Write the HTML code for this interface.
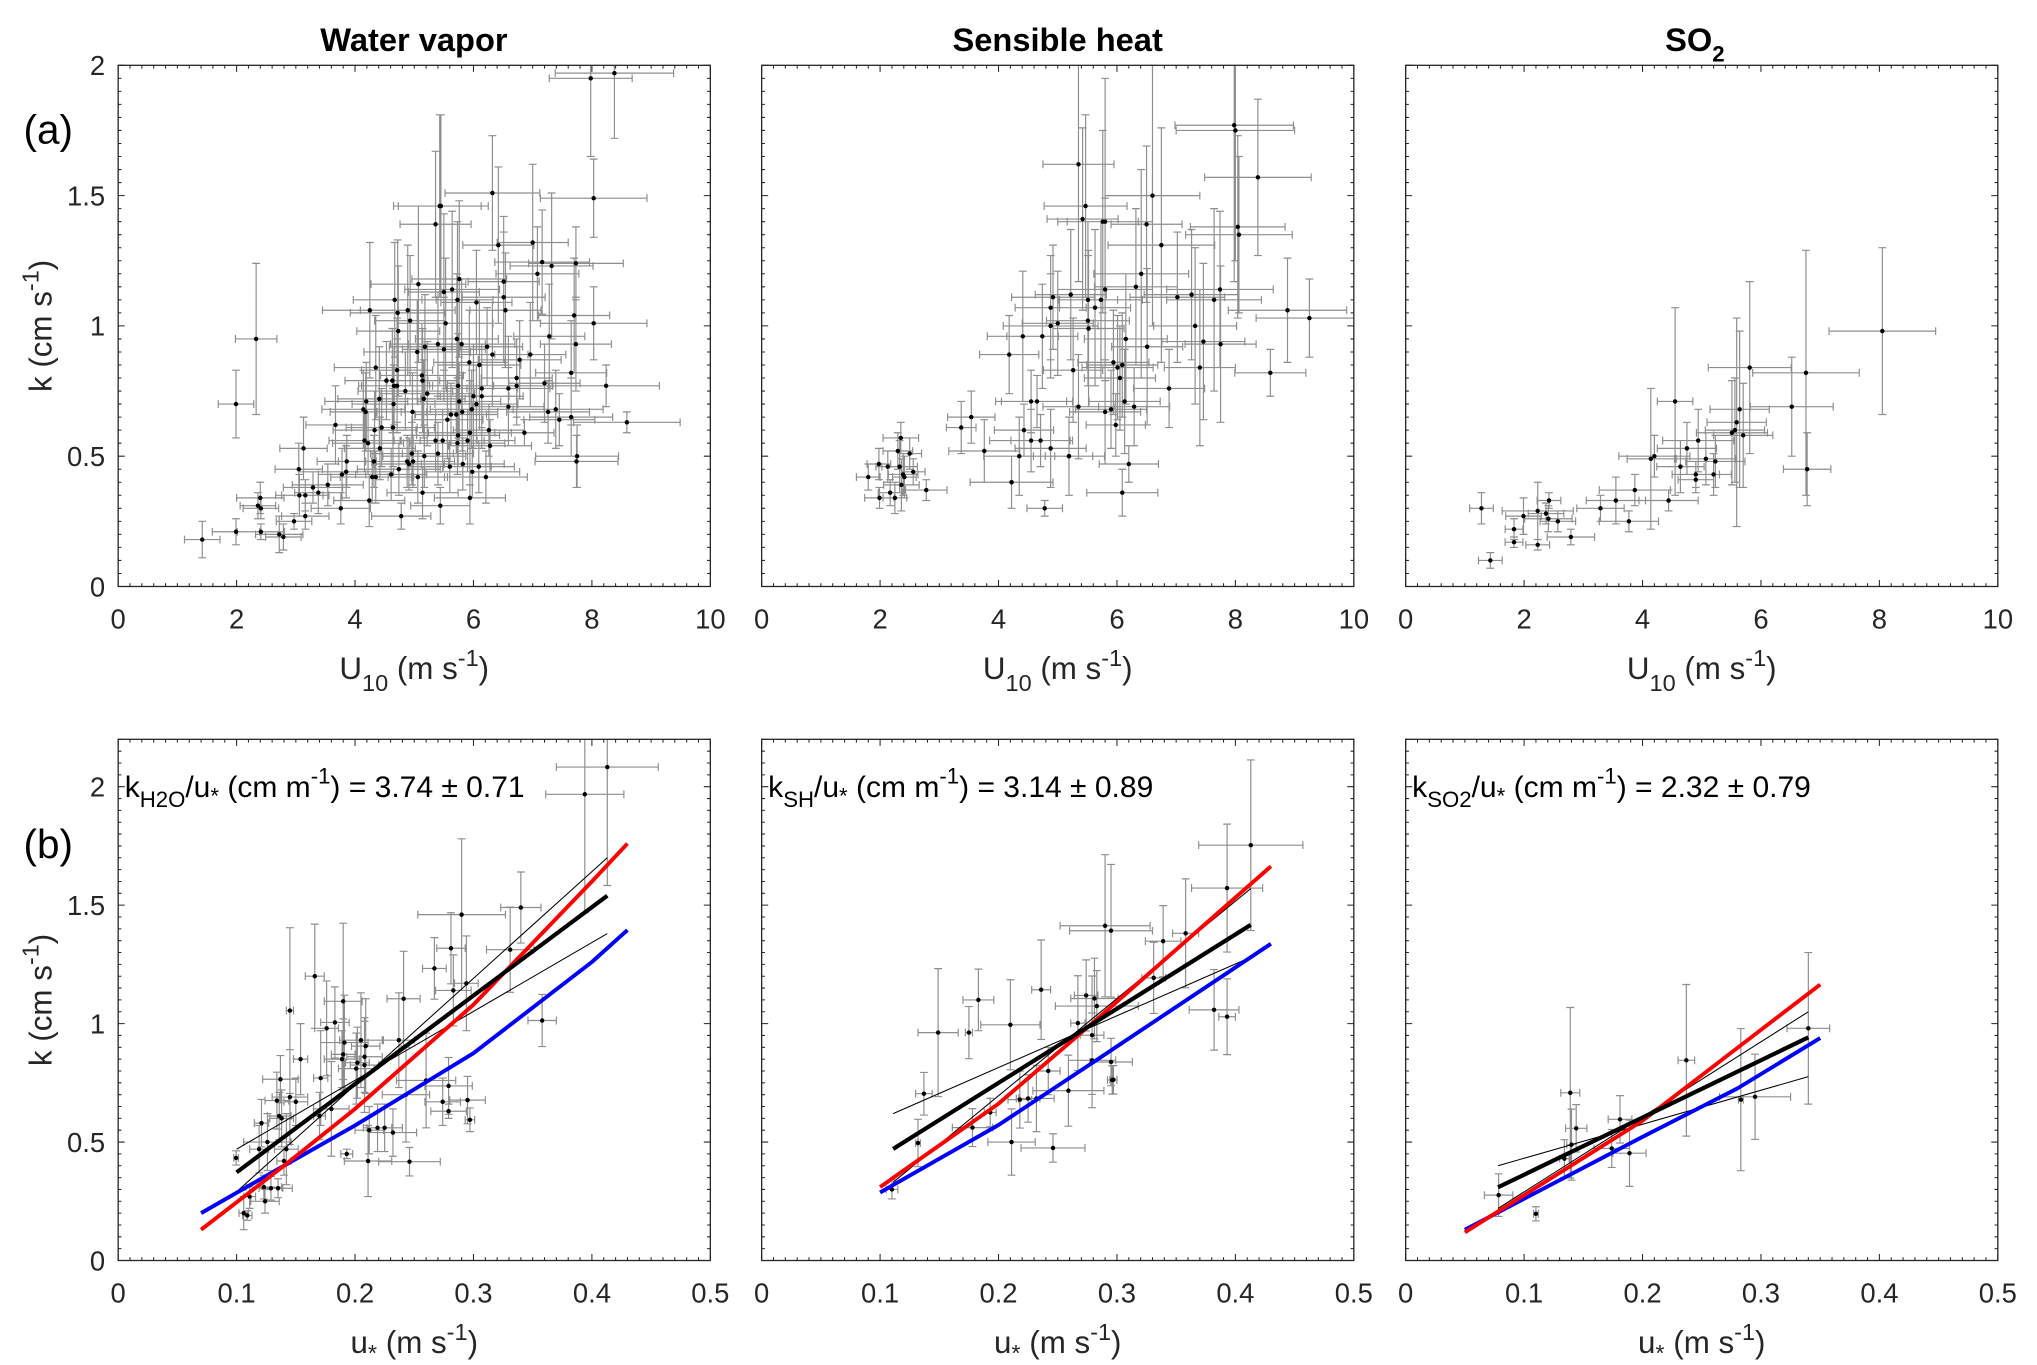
<!DOCTYPE html>
<html><head><meta charset="utf-8"><style>
html,body{margin:0;padding:0;background:#fff;}
svg{display:block;font-family:"Liberation Sans",Arial,sans-serif;}
</style></head><body>
<svg id="fig" width="2037" height="1365" viewBox="0 0 1560 1045" preserveAspectRatio="none" xmlns="http://www.w3.org/2000/svg">
<rect width="1560" height="1045" fill="#fff"/>
<text x="317" y="39" font-size="25" font-weight="bold" text-anchor="middle">Water vapor</text>
<text x="810" y="39" font-size="25" font-weight="bold" text-anchor="middle">Sensible heat</text>
<text x="1298" y="39" font-size="25" font-weight="bold" text-anchor="middle">SO<tspan font-size="17" dy="8">2</tspan></text>
<text x="18" y="110" font-size="31">(a)</text>
<text x="18" y="657" font-size="31">(b)</text>
<g id="plots"></g>
</svg>
<script>
// ---------- Data: top row (U10 vs k) ----------
const wvX=[8.24,8.59,7.75,7.70,7.73,7.73,7.32,7.16,7.08,7.0,7.28,7.2,7.26,7.39,7.65,7.65,7.45,7.74,6.96,6.86,6.78,6.73,6.73,6.59,6.59,6.54,6.51,6.51,6.42,6.32,6.32,6.28,6.26,6.23,6.21,6.14,6.14,6.1,6.09,6.05,6.05,6.0,5.98,5.97,5.94,5.94,5.93,5.9,5.82,5.8,5.81,5.76,5.76,5.74,5.74,5.73,5.72,5.73,5.71,5.64,5.62,5.6,5.56,5.53,5.5,5.5,5.48,5.45,5.44,5.43,5.4,5.4,5.36,5.36,5.22,5.18,5.17,5.16,5.14,5.14,5.13,5.07,5.06,5.05,4.98,4.97,4.96,4.93,4.91,4.88,4.85,4.89,4.78,4.74,4.73,4.71,4.71,4.72,4.67,4.66,4.65,4.64,4.63,4.61,4.53,4.45,4.42,4.41,4.35,4.35,4.33,4.32,4.29,4.25,4.24,4.22,4.19,4.18,4.16,4.14,3.86,3.85,3.78,3.76,3.67,3.54,3.38,3.29,3.16,3.16,3.13,3.06,3.05,2.97,2.79,2.72,2.41,2.41,2.4,2.36,2.33,1.99,1.99,1.42,8.03,8.03,7.98,8.38];
const wvY=[0.77,0.63,0.50,1.04,0.93,1.24,1.23,1.245,1.20,1.32,0.96,0.78,0.67,0.68,0.82,0.65,0.64,0.48,0.89,0.59,0.87,0.80,0.77,0.69,0.76,1.06,1.11,1.17,1.31,1.51,0.89,0.54,0.60,0.92,0.42,0.73,0.76,0.85,0.46,1.09,0.70,0.73,0.44,0.68,0.34,0.59,0.86,0.56,0.47,0.93,0.67,0.71,1.18,0.77,0.58,0.55,0.95,1.10,0.66,1.14,0.66,0.46,0.64,1.01,0.91,1.13,0.56,1.46,0.31,1.46,0.93,0.51,1.39,0.56,0.74,0.92,0.50,0.72,0.79,0.36,0.81,1.16,0.42,0.90,0.48,0.67,0.51,1.02,0.47,0.48,0.75,1.06,0.27,0.45,0.98,0.83,0.77,1.05,1.10,0.77,0.70,0.61,0.79,0.43,0.79,0.61,0.53,0.72,0.84,0.42,0.60,0.48,0.42,1.06,0.33,0.55,0.71,0.67,0.56,0.68,0.48,0.44,0.43,0.30,0.62,0.39,0.36,0.38,0.27,0.35,0.53,0.35,0.45,0.25,0.19,0.20,0.21,0.30,0.34,0.31,0.95,0.70,0.21,0.18,1.49,1.01,1.95,1.97];
const wvXe=[0.9,0.9,0.7,0.6,0.6,0.8,0.7,0.8,0.7,0.6,0.6,0.6,0.7,0.8,0.6,0.7,0.6,0.7,0.6,0.5,0.7,0.6,0.6,0.6,0.7,0.6,0.7,0.6,0.6,0.8,0.6,0.7,0.6,0.6,0.7,0.7,0.6,0.7,0.6,0.6,0.7,0.6,0.8,0.7,0.6,0.7,0.6,0.8,0.7,0.9,0.6,0.7,0.8,0.6,0.7,0.8,0.7,0.6,0.7,0.8,0.6,0.7,0.6,0.8,0.7,0.6,0.7,0.8,0.5,0.7,0.8,0.6,0.6,0.7,0.8,0.6,0.7,0.7,0.6,0.6,0.7,0.8,0.5,0.9,0.7,0.6,0.7,0.6,0.6,0.7,0.8,0.8,0.5,0.7,0.7,0.6,0.6,0.8,0.7,0.6,0.7,0.7,0.8,0.6,0.7,0.6,0.6,0.7,0.7,0.6,0.7,0.6,0.7,0.8,0.6,0.6,0.7,0.6,0.6,0.7,0.5,0.8,0.4,0.5,0.5,0.6,0.4,0.5,0.4,0.4,0.4,0.4,0.4,0.3,0.3,0.4,0.4,0.3,0.4,0.3,0.35,0.3,0.4,0.3,0.9,0.9,0.7,1.0];
const wvYe=[0.08,0.04,0.12,0.22,0.18,0.14,0.28,0.2,0.18,0.3,0.2,0.15,0.12,0.15,0.2,0.15,0.1,0.1,0.2,0.05,0.15,0.15,0.15,0.15,0.2,0.22,0.25,0.25,0.3,0.22,0.2,0.1,0.1,0.15,0.1,0.2,0.15,0.25,0.1,0.2,0.15,0.2,0.1,0.15,0.1,0.2,0.2,0.12,0.1,0.25,0.15,0.15,0.3,0.2,0.12,0.12,0.25,0.3,0.15,0.3,0.12,0.1,0.15,0.25,0.2,0.3,0.12,0.35,0.07,0.35,0.2,0.12,0.28,0.12,0.2,0.2,0.12,0.15,0.2,0.1,0.2,0.3,0.1,0.2,0.1,0.15,0.12,0.25,0.1,0.1,0.15,0.25,0.05,0.1,0.25,0.2,0.18,0.28,0.22,0.15,0.15,0.15,0.2,0.1,0.15,0.15,0.12,0.2,0.2,0.1,0.15,0.1,0.1,0.26,0.1,0.12,0.15,0.15,0.12,0.15,0.1,0.1,0.1,0.06,0.15,0.08,0.08,0.06,0.05,0.06,0.12,0.08,0.1,0.03,0.05,0.07,0.03,0.04,0.06,0.05,0.29,0.13,0.05,0.07,0.15,0.14,0.3,0.25];

const shX=[1.80,1.98,1.99,2.13,2.17,2.25,2.30,2.33,2.35,2.36,2.39,2.41,2.5,2.56,2.78,3.37,3.54,3.76,4.18,4.22,4.35,4.41,4.43,4.55,4.55,4.65,4.71,4.74,4.78,4.88,4.88,4.88,4.92,5.0,5.19,5.19,5.22,5.26,5.35,5.35,5.42,5.47,5.51,5.51,5.52,5.63,5.73,5.76,5.8,5.8,5.8,5.9,5.94,5.98,6.01,6.05,6.09,6.09,6.13,6.15,6.2,6.29,6.32,6.41,6.5,6.51,6.6,6.75,6.88,7.02,7.26,7.32,7.4,7.46,7.64,7.74,7.75,7.98,8.0,8.04,8.06,8.38,8.59,8.88,9.25];
const shY=[0.42,0.47,0.34,0.46,0.36,0.34,0.52,0.46,0.57,0.39,0.43,0.42,0.51,0.44,0.37,0.61,0.65,0.52,0.89,0.40,0.50,0.96,0.60,0.71,0.56,0.71,0.56,0.96,0.30,1.07,1.0,0.53,1.11,1.01,0.50,0.50,1.12,0.83,1.62,0.69,1.41,1.46,1.10,1.02,0.99,1.07,1.10,1.40,1.40,1.14,0.67,0.68,0.86,0.62,0.84,0.80,0.85,0.36,0.71,0.95,0.47,0.69,1.15,1.20,1.39,0.92,1.50,1.31,0.76,1.11,1.12,1.0,0.84,0.94,1.10,1.14,0.93,1.77,1.75,1.38,1.35,1.57,0.82,1.06,1.03];
const shXe=[0.2,0.2,0.25,0.2,0.2,0.2,0.25,0.3,0.3,0.3,0.25,0.2,0.2,0.2,0.35,0.25,0.4,0.6,0.5,0.7,0.6,0.6,0.5,0.6,0.7,0.6,0.5,0.6,0.3,0.6,0.8,0.6,0.7,0.6,0.6,0.4,0.6,0.5,0.6,0.6,0.6,0.7,0.5,0.7,0.6,0.6,0.7,0.6,0.8,0.8,0.6,0.6,0.6,0.5,0.6,0.6,0.6,0.6,0.6,0.7,0.5,0.6,0.7,0.8,0.6,0.6,0.8,0.9,0.6,0.8,0.8,0.7,0.6,0.7,0.8,0.9,0.6,1.0,1.0,0.8,0.9,0.9,0.6,1.0,0.9];
const shYe=[0.05,0.06,0.04,0.06,0.05,0.06,0.07,0.1,0.06,0.1,0.08,0.08,0.06,0.05,0.04,0.1,0.1,0.12,0.15,0.1,0.15,0.25,0.1,0.12,0.12,0.1,0.1,0.2,0.03,0.2,0.2,0.15,0.2,0.2,0.15,0.15,0.25,0.2,0.45,0.2,0.35,0.35,0.3,0.25,0.3,0.3,0.3,0.35,0.55,0.35,0.2,0.15,0.2,0.12,0.2,0.2,0.2,0.09,0.2,0.25,0.07,0.15,0.3,0.4,0.3,0.3,0.5,0.45,0.15,0.25,0.25,0.3,0.3,0.3,0.35,0.3,0.3,0.6,0.5,0.35,0.3,0.3,0.09,0.2,0.15];

const soX=[1.28,1.43,1.83,1.83,1.99,2.23,2.23,2.37,2.41,2.42,2.57,2.79,3.29,3.55,3.77,3.87,4.14,4.2,4.44,4.55,4.64,4.75,4.9,4.9,4.94,5.07,5.2,5.23,5.51,5.56,5.59,5.64,5.7,5.81,6.52,6.76,6.78,8.05];
const soY=[0.30,0.10,0.22,0.17,0.27,0.29,0.16,0.28,0.26,0.33,0.25,0.19,0.30,0.33,0.25,0.37,0.49,0.50,0.33,0.71,0.46,0.53,0.43,0.41,0.56,0.49,0.43,0.48,0.59,0.60,0.63,0.68,0.58,0.84,0.69,0.82,0.45,0.98];
const soXe=[0.2,0.2,0.15,0.15,0.3,0.6,0.2,0.3,0.4,0.2,0.3,0.4,0.4,0.5,0.5,0.6,0.4,0.6,0.5,0.3,0.4,0.5,0.4,0.3,0.6,0.5,0.3,0.5,0.6,0.5,0.5,0.5,0.5,0.7,0.7,0.9,0.4,0.9];
const soYe=[0.06,0.03,0.04,0.02,0.07,0.11,0.02,0.04,0.05,0.03,0.04,0.03,0.05,0.09,0.04,0.06,0.27,0.08,0.04,0.36,0.1,0.1,0.05,0.05,0.12,0.1,0.08,0.1,0.2,0.2,0.4,0.3,0.2,0.33,0.19,0.47,0.14,0.32];

// ---------- Data: bottom row (u* vs k) ----------
const bwX=[0.0996,0.106,0.109,0.111,0.119,0.121,0.123,0.124,0.126,0.129,0.134,0.135,0.136,0.137,0.138,0.14,0.142,0.145,0.145,0.15,0.154,0.166,0.17,0.171,0.176,0.18,0.183,0.189,0.19,0.19,0.191,0.193,0.201,0.202,0.205,0.208,0.208,0.209,0.211,0.212,0.219,0.225,0.232,0.237,0.241,0.243,0.246,0.26,0.267,0.274,0.279,0.279,0.281,0.283,0.29,0.294,0.295,0.297,0.331,0.34,0.358,0.394,0.413];
const bwY=[0.433,0.20,0.19,0.27,0.47,0.58,0.31,0.25,0.50,0.305,0.675,0.305,0.61,0.765,0.60,0.42,0.47,1.055,0.69,0.67,0.85,1.20,0.61,0.77,0.98,0.64,1.005,0.85,1.094,0.87,0.92,0.45,0.81,0.835,0.93,0.86,0.825,0.905,0.42,0.55,0.56,0.56,0.54,0.93,1.105,0.70,0.417,0.76,1.233,0.67,0.63,0.737,1.318,1.14,1.46,1.17,0.677,0.594,1.312,1.49,1.013,1.968,2.083];
const bwXe=[0.002,0.004,0.004,0.005,0.008,0.006,0.015,0.012,0.02,0.01,0.01,0.012,0.01,0.015,0.01,0.006,0.01,0.003,0.015,0.01,0.006,0.008,0.005,0.006,0.01,0.015,0.012,0.015,0.016,0.01,0.02,0.005,0.015,0.01,0.018,0.015,0.012,0.012,0.02,0.012,0.012,0.015,0.02,0.013,0.014,0.02,0.026,0.025,0.01,0.015,0.015,0.02,0.012,0.015,0.037,0.01,0.015,0.004,0.02,0.017,0.012,0.033,0.043];
const bwYe=[0.03,0.07,0.02,0.05,0.1,0.1,0.05,0.05,0.12,0.05,0.12,0.04,0.1,0.1,0.12,0.06,0.15,0.35,0.2,0.1,0.15,0.22,0.1,0.2,0.2,0.2,0.15,0.12,0.33,0.15,0.2,0.02,0.15,0.15,0.2,0.15,0.2,0.2,0.15,0.1,0.1,0.1,0.1,0.2,0.2,0.2,0.06,0.2,0.13,0.1,0.03,0.12,0.15,0.15,0.32,0.2,0.1,0.05,0.18,0.15,0.11,0.5,0.5];

const bsX=[0.110,0.132,0.137,0.149,0.175,0.178,0.183,0.193,0.210,0.211,0.218,0.225,0.232,0.236,0.242,0.246,0.259,0.267,0.274,0.279,0.279,0.281,0.283,0.290,0.295,0.295,0.296,0.297,0.331,0.339,0.358,0.382,0.393,0.393,0.413];
const bsY=[0.30,0.496,0.704,0.962,0.962,0.561,1.10,0.625,0.995,0.50,0.679,0.684,0.684,1.143,0.80,0.475,0.717,1.002,1.119,0.845,0.951,1.106,1.074,1.413,1.392,0.838,0.762,0.763,1.193,1.348,1.381,1.058,1.572,1.029,1.753];
const bsXe=[0.005,0.002,0.007,0.017,0.003,0.017,0.013,0.005,0.025,0.02,0.01,0.01,0.015,0.008,0.01,0.027,0.03,0.006,0.01,0.02,0.01,0.02,0.035,0.038,0.035,0.018,0.004,0.003,0.01,0.015,0.011,0.021,0.03,0.007,0.044];
const bsYe=[0.04,0.1,0.09,0.27,0.11,0.08,0.13,0.06,0.19,0.14,0.12,0.1,0.14,0.21,0.1,0.06,0.15,0.2,0.15,0.2,0.25,0.17,0.15,0.3,0.28,0.1,0.06,0.06,0.15,0.15,0.23,0.17,0.27,0.16,0.36];

const boX=[0.0785,0.110,0.134,0.139,0.140,0.144,0.174,0.181,0.189,0.237,0.283,0.295,0.340];
const boY=[0.276,0.197,0.43,0.708,0.489,0.558,0.473,0.596,0.453,0.845,0.679,0.691,0.980];
const boXe=[0.012,0.002,0.004,0.008,0.004,0.009,0.015,0.01,0.014,0.007,0.002,0.03,0.018];
const boYe=[0.09,0.03,0.08,0.36,0.15,0.1,0.08,0.1,0.14,0.32,0.3,0.18,0.32];

// ---------- Fit / model curves ----------
const wvFitX=[0.1,0.413], wvFitY=[0.372,1.54], wvLoY=[0.47,1.38], wvHiY=[0.29,1.70];
const wvRedX=[0.07,0.14,0.2,0.3,0.4,0.43], wvRedY=[0.13,0.40,0.64,1.08,1.60,1.76];
const wvBlueX=[0.07,0.14,0.2,0.3,0.4,0.43], wvBlueY=[0.20,0.40,0.57,0.875,1.26,1.395];
const shFitX=[0.111,0.413], shFitY=[0.471,1.417], shLoY=[0.62,1.28], shHiY=[0.33,1.57];
const shRedX=[0.1,0.2,0.28,0.43], shRedY=[0.31,0.662,1.005,1.664];
const shBlueX=[0.1,0.2,0.28,0.43], shBlueY=[0.287,0.572,0.837,1.337];
const soFitX=[0.078,0.34], soFitY=[0.309,0.942], soLoY=[0.40,0.776], soHiY=[0.22,1.05];
const soRedX=[0.05,0.2,0.28,0.35], soRedY=[0.119,0.59,0.897,1.165];
const soBlueX=[0.05,0.2,0.28,0.35], soBlueY=[0.13,0.522,0.726,0.939];

const topXTicks=["0","2","4","6","8","10"], topYTicks=["0","0.5","1","1.5","2"];
const botXTicks=["0","0.1","0.2","0.3","0.4","0.5"], botYTicks=["0","0.5","1","1.5","2"];

const NS="http://www.w3.org/2000/svg";
const root=document.getElementById('plots');
function mk(tag,attrs,parent){const e=document.createElementNS(NS,tag);for(const k in attrs)e.setAttribute(k,attrs[k]);(parent||root).appendChild(e);return e;}

const colX=[90.5,583.3,1076.5], W=453.5, H=399;
function panel(col,row,cfg){
  const x0=colX[col], y0=row===0?50:566;
  const g=mk('g',{});
  
  
  const sx=v=>x0+(v-cfg.xmin)/(cfg.xmax-cfg.xmin)*W;
  const sy=v=>y0+H-(v-cfg.ymin)/(cfg.ymax-cfg.ymin)*H;
  let d='';
  for(let v=cfg.xmin;v<=cfg.xmax+1e-9;v+=cfg.xminor){const px=sx(v);const maj=Math.abs(v/cfg.xmajor-Math.round(v/cfg.xmajor))<1e-6;const L=maj?5:2.5;d+=`M${px},${y0+H}v${-L}M${px},${y0}v${L}`;}
  for(let v=cfg.ymin;v<=cfg.ymax+1e-9;v+=cfg.yminor){const py=sy(v);const maj=Math.abs(v/cfg.ymajor-Math.round(v/cfg.ymajor))<1e-6;const L=maj?5:2.5;d+=`M${x0},${py}h${L}M${x0+W},${py}h${-L}`;}
  const t=mk('path',{d:d,stroke:'#262626','stroke-width':0.8,fill:'none'},g);
  
  
  cfg.xt.forEach(s=>{const v=parseFloat(s);const e=mk('text',{x:sx(v),y:y0+H+32,'font-size':21,'text-anchor':'middle',fill:'#262626'},g);e.textContent=s;
    
    });
  if(col===0) cfg.yt.forEach(s=>{const v=parseFloat(s);const e=mk('text',{x:x0-10,y:sy(v)+7.5,'font-size':21,'text-anchor':'end',fill:'#262626'},g);e.textContent=s;
    
    });
  let eb='';
  for(let i=0;i<cfg.X.length;i++){
    const x=cfg.X[i],y=cfg.Y[i],xe=cfg.Xe[i],ye=cfg.Ye[i];
    const yt=Math.min(y+ye,cfg.ymax),yb=Math.max(y-ye,cfg.ymin);
    const xl=Math.max(x-xe,cfg.xmin),xr=Math.min(x+xe,cfg.xmax);
    eb+=`M${sx(x)},${sy(yb)}V${sy(yt)}M${sx(xl)},${sy(y)}H${sx(xr)}`;
    const c=3;
    if(y+ye<=cfg.ymax) eb+=`M${sx(x)-c},${sy(yt)}h${2*c}`;
    eb+=`M${sx(x)-c},${sy(yb)}h${2*c}`;
    if(x+xe<=cfg.xmax) eb+=`M${sx(xr)},${sy(y)-c}v${2*c}`;
    eb+=`M${sx(xl)},${sy(y)-c}v${2*c}`;
  }
  const ep=mk('path',{d:eb,stroke:'#8e8e8e','stroke-width':0.9,fill:'none'},g);
  
  
  for(let i=0;i<cfg.X.length;i++){
    const c=mk('circle',{cx:sx(cfg.X[i]),cy:sy(cfg.Y[i]),r:1.7,fill:'#000'},g);
    
    
  }
  if(cfg.fit){
    const f=cfg.fit;
    const line=(xs,ys,col,w,name)=>{const p=mk('polyline',{points:xs.map((v,i)=>sx(v)+','+sy(ys[i])).join(' '),stroke:col,'stroke-width':w,fill:'none','stroke-linejoin':'round'},g);
      
      };
    line(f.fx,f.lo,'#000',0.8,'fit-bound-a');
    line(f.fx,f.hi,'#000',0.8,'fit-bound-b');
    line(f.bx,f.by,'#0000ff',3,'model-blue');
    line(f.rx,f.ry,'#ff0000',3,'model-red');
    line(f.fx,f.fy,'#000',3.2,'linear-fit');
  }
  const fr=mk('rect',{x:x0,y:y0,width:W,height:H,fill:'none',stroke:'#262626','stroke-width':1},g);
  
  
  const xl=mk('text',{x:x0+W/2,y:row===0?y0+H+71:y0+H+71,'font-size':24,'text-anchor':'middle',fill:'#262626'},g);
  
  
  if(row===0) xl.innerHTML='U<tspan font-size="18" dy="9">10</tspan><tspan dy="-9"> (m s</tspan><tspan font-size="18" dy="-10">-1</tspan><tspan dy="10">)</tspan>';
  else xl.innerHTML='u<tspan font-size="18" dy="6">*</tspan><tspan dy="-6"> (m s</tspan><tspan font-size="18" dy="-10">-1</tspan><tspan dy="10">)</tspan>';
  if(col===0){
    const yl=mk('text',{x:0,y:0,'font-size':24,'text-anchor':'middle',fill:'#262626',transform:`translate(${x0-51},${y0+H/2}) rotate(-90)`},g);
    
    
    yl.innerHTML='k (cm s<tspan font-size="18" dy="-10">-1</tspan><tspan dy="10">)</tspan>';
  }
  if(cfg.note){
    const n=mk('text',{x:x0+5,y:y0+44,'font-size':23,fill:'#000'},g);
    
    
    n.innerHTML='k<tspan font-size="17" dy="8">'+cfg.note[0]+'</tspan><tspan dy="-8">/u</tspan><tspan font-size="17" dy="5">*</tspan><tspan dy="-5"> (cm m</tspan><tspan font-size="17" dy="-10">-1</tspan><tspan dy="10">) = '+cfg.note[1]+'</tspan>';
  }
}
const topBase={xmin:0,xmax:10,ymin:0,ymax:2,xmajor:2,xminor:0.2,ymajor:0.5,yminor:0.05,xt:topXTicks,yt:topYTicks};
const botBase={xmin:0,xmax:0.5,ymin:0,ymax:2.2,xmajor:0.1,xminor:0.01,ymajor:0.5,yminor:0.05,xt:botXTicks,yt:botYTicks};
panel(0,0,Object.assign({},topBase,{name:'panel-a-water-vapor',X:wvX,Y:wvY,Xe:wvXe,Ye:wvYe}));
panel(1,0,Object.assign({},topBase,{name:'panel-a-sensible-heat',X:shX,Y:shY,Xe:shXe,Ye:shYe}));
panel(2,0,Object.assign({},topBase,{name:'panel-a-so2',X:soX,Y:soY,Xe:soXe,Ye:soYe}));
panel(0,1,Object.assign({},botBase,{name:'panel-b-water-vapor',X:bwX,Y:bwY,Xe:bwXe,Ye:bwYe,note:['H2O','3.74 ± 0.71'],
  fit:{fx:wvFitX,fy:wvFitY,lo:wvLoY,hi:wvHiY,rx:wvRedX,ry:wvRedY,bx:wvBlueX,by:wvBlueY}}));
panel(1,1,Object.assign({},botBase,{name:'panel-b-sensible-heat',X:bsX,Y:bsY,Xe:bsXe,Ye:bsYe,note:['SH','3.14 ± 0.89'],
  fit:{fx:shFitX,fy:shFitY,lo:shLoY,hi:shHiY,rx:shRedX,ry:shRedY,bx:shBlueX,by:shBlueY}}));
panel(2,1,Object.assign({},botBase,{name:'panel-b-so2',X:boX,Y:boY,Xe:boXe,Ye:boYe,note:['SO2','2.32 ± 0.79'],
  fit:{fx:soFitX,fy:soFitY,lo:soLoY,hi:soHiY,rx:soRedX,ry:soRedY,bx:soBlueX,by:soBlueY}}));
</script>
</body></html>
